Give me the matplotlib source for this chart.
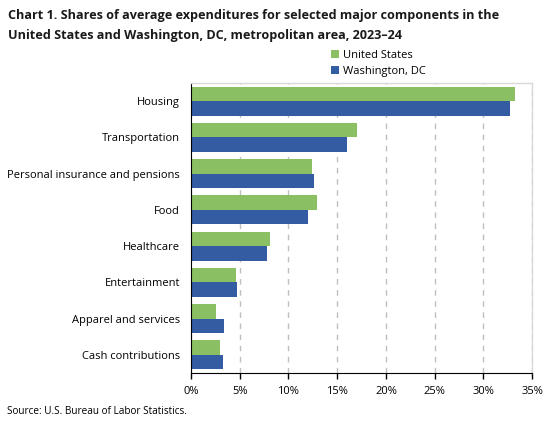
import matplotlib
matplotlib.use("Agg")
import matplotlib.pyplot as plt
import numpy as np

categories = ["Housing", "Transportation", "Personal insurance and pensions", "Food",
              "Healthcare", "Entertainment", "Apparel and services", "Cash contributions"]
us_values = [33.2, 17.0, 12.4, 12.9, 8.1, 4.6, 2.6, 3.0]
dc_values = [32.7, 16.0, 12.6, 12.0, 7.8, 4.7, 3.4, 3.25]
series_names = ["United States", "Washington, DC"]
x_ticks = [0, 5, 10, 15, 20, 25, 30, 35]
tick_labels = [f"{t}%" for t in x_ticks]

green = "#8bbf63"
blue = "#335ca3"

plt.rcParams['font.family'] = ['Open Sans', 'DejaVu Sans']

fig = plt.figure(figsize=(5.52, 4.23), dpi=100)
ax = fig.add_axes([0.346, 0.118, 0.618, 0.686])

y = np.arange(len(categories))
h = 0.4
ax.barh(y - h/2, us_values, height=h, color=green, label=series_names[0])
ax.barh(y + h/2, dc_values, height=h, color=blue, label=series_names[1])

ax.set_ylim(len(categories) - 0.5, -0.5)
ax.set_xlim(0, 35)
ax.set_xticks(x_ticks)
ax.set_xticklabels(tick_labels, fontsize=8)
ax.set_yticks(y)
ax.set_yticklabels(categories, fontsize=8)
ax.tick_params(axis='y', length=0, pad=8)
ax.tick_params(axis='x', length=4, width=1, direction='out', pad=5, color='black')

ax.xaxis.grid(True, linestyle=(0, (4, 4)), color='#bfbfbf', linewidth=1)
ax.set_axisbelow(True)
for s in ['top', 'right']:
    ax.spines[s].set_color('#d9d9d9')
    ax.spines[s].set_linewidth(1)
ax.spines['left'].set_color('black')
ax.spines['bottom'].set_color('black')

fig.text(0.014, 0.978, "Chart 1. Shares of average expenditures for selected major components in the\nUnited States and Washington, DC, metropolitan area, 2023\u201324",
         fontsize=9.1, fontweight='bold', va='top', ha='left', linespacing=1.62, color='#1a1a1a')

handles, labels = ax.get_legend_handles_labels()
leg = fig.legend(handles, labels, loc='upper left', bbox_to_anchor=(0.59, 0.895),
                 frameon=False, fontsize=8, handlelength=0.7, handleheight=0.7,
                 handletextpad=0.4, labelspacing=0.45, borderpad=0)

fig.text(0.012, 0.015, "Source: U.S. Bureau of Labor Statistics.", fontsize=7.2, ha='left', va='bottom')

fig.savefig("out.png", dpi=100)
